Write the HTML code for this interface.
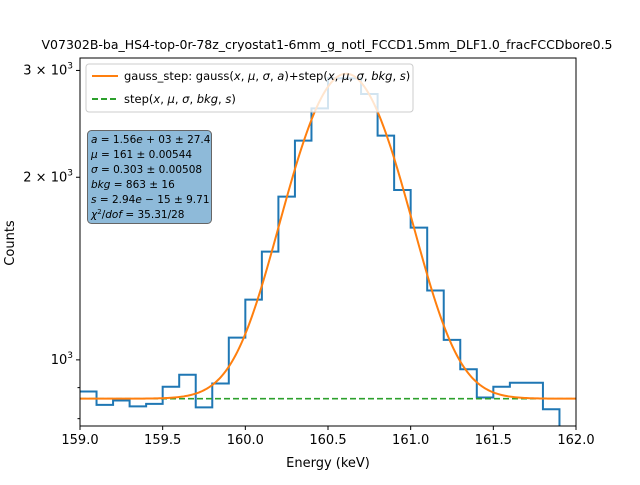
<!DOCTYPE html>
<html><head><meta charset="utf-8"><style>
body{margin:0;background:#fff}
svg{font-family:"DejaVu Sans","Liberation Sans",sans-serif}
</style></head><body>
<svg id="chart" width="640" height="480" viewBox="0 0 640 480" xmlns="http://www.w3.org/2000/svg">
<rect x="0" y="0" width="640" height="480" fill="#fff"/>
<text x="327" y="49" font-size="12.6" text-anchor="middle" textLength="571" lengthAdjust="spacingAndGlyphs">V07302B-ba_HS4-top-0r-78z_cryostat1-6mm_g_notl_FCCD1.5mm_DLF1.0_fracFCCDbore0.5</text>
<g id="plot"></g>
<g id="axes"></g>
<text x="328" y="467" font-size="13" text-anchor="middle">Energy (keV)</text>
<text x="14" y="243" font-size="13" text-anchor="middle" transform="rotate(-90 14 243)">Counts</text>
<g>
<rect x="86" y="64" width="327" height="48" rx="3" fill="#fff" fill-opacity="0.8" stroke="#ccc"/>
<line x1="92" y1="76" x2="118" y2="76" stroke="#ff7f0e" stroke-width="2"/>
<text x="124" y="80" font-size="11.5">gauss_step: gauss(<tspan font-style="italic">x</tspan>, <tspan font-style="italic">μ</tspan>, <tspan font-style="italic">σ</tspan>, <tspan font-style="italic">a</tspan>)+step(<tspan font-style="italic">x</tspan>, <tspan font-style="italic">μ</tspan>, <tspan font-style="italic">σ</tspan>, <tspan font-style="italic">bkg</tspan>, <tspan font-style="italic">s</tspan>)</text>
<line x1="92" y1="99" x2="118" y2="99" stroke="#2ca02c" stroke-width="2" stroke-dasharray="6,3"/>
<text x="124" y="103" font-size="11.5">step(<tspan font-style="italic">x</tspan>, <tspan font-style="italic">μ</tspan>, <tspan font-style="italic">σ</tspan>, <tspan font-style="italic">bkg</tspan>, <tspan font-style="italic">s</tspan>)</text>
</g>
<g font-size="10.5">
<rect x="87.5" y="130.5" width="124" height="93" rx="4" fill="#8ebad9" stroke="#666"/>
<text x="91" y="143"><tspan font-style="italic">a</tspan> = 1.56<tspan font-style="italic">e</tspan> + 03 ± 27.4</text>
<text x="91" y="158"><tspan font-style="italic">μ</tspan> = 161 ± 0.00544</text>
<text x="91" y="173"><tspan font-style="italic">σ</tspan> = 0.303 ± 0.00508</text>
<text x="91" y="188"><tspan font-style="italic">bkg</tspan> = 863 ± 16</text>
<text x="91" y="203"><tspan font-style="italic">s</tspan> = 2.94<tspan font-style="italic">e</tspan> − 15 ± 9.71</text>
<text x="91" y="218"><tspan font-style="italic">χ</tspan><tspan font-size="7" dy="-4">2</tspan><tspan dy="4">/</tspan><tspan font-style="italic">dof</tspan> = 35.31/28</text>
</g>
</svg>
<script>
const binEdgesStart = 159.0;
const binWidth = 0.1;
const counts = [887,843,857,838,846,903,945,835,914,1088,1257,1508,1858,2298,2598,2911,2911,2743,2342,1906,1652,1301,1079,965,867,903,917,917,829,760];
const fitParams = {amp:2100, mu:160.61, sigma:0.293, bkg:863};
const xTicks = [159.0,159.5,160.0,160.5,161.0,161.5,162.0];
const xTickLabels = ["159.0","159.5","160.0","160.5","161.0","161.5","162.0"];
const yMajor = [1000,2000,3000];
const yMinor = [800,900];

const L=80,R=576,T=58,B=426, xmin=159,xmax=162, ymin=778, ymax=3145;
const NS="http://www.w3.org/2000/svg";
const X=v=>L+(v-xmin)/(xmax-xmin)*(R-L);
const Y=v=>B-(Math.log10(v)-Math.log10(ymin))/(Math.log10(ymax)-Math.log10(ymin))*(B-T);
function mk(tag,attrs,parent){const e=document.createElementNS(NS,tag);for(const k in attrs)e.setAttribute(k,attrs[k]);parent.appendChild(e);return e;}
const plot=document.getElementById('plot'), axes=document.getElementById('axes');
const defs=mk('defs',{},plot);
const cp=mk('clipPath',{id:'clip'},defs);
mk('rect',{x:L,y:T,width:R-L,height:B-T},cp);
const g=mk('g',{'clip-path':'url(#clip)'},plot);

let d='';
counts.forEach((c,i)=>{const x0=X(binEdgesStart+i*binWidth),x1=X(binEdgesStart+(i+1)*binWidth),y=Y(c);
 d+=(i===0?'M'+x0+','+y:'L'+x0+','+y)+'L'+x1+','+y;});
const hist=mk('path',{d:d,fill:'none',stroke:'#1f77b4','stroke-width':2},g);



const st=mk('line',{x1:L,x2:R,y1:Y(fitParams.bkg),y2:Y(fitParams.bkg),stroke:'#2ca02c','stroke-width':1.6,'stroke-dasharray':'6,3'},g);



let fd='';
for(let i=0;i<=300;i++){const x=xmin+i*(xmax-xmin)/300;
 const v=fitParams.bkg+fitParams.amp*Math.exp(-Math.pow(x-fitParams.mu,2)/(2*fitParams.sigma*fitParams.sigma));
 fd+=(i?'L':'M')+X(x).toFixed(2)+','+Y(v).toFixed(2);}
const fc=mk('path',{d:fd,fill:'none',stroke:'#ff7f0e','stroke-width':2},g);



const fr=mk('rect',{x:L,y:T,width:R-L,height:B-T,fill:'none',stroke:'#000','stroke-width':1},axes);



xTicks.forEach((t,i)=>{
 const tk=mk('line',{x1:X(t),x2:X(t),y1:B,y2:B+4,stroke:'#000'},axes);
 
 
 const tl=mk('text',{x:X(t),y:B+18,'font-size':13,'text-anchor':'middle'},axes);
 tl.textContent=xTickLabels[i];
 
 
});
yMajor.forEach(t=>{
 const y=Y(t);
 const tk=mk('line',{x1:L-4,x2:L,y1:y,y2:y,stroke:'#000'},axes);
 
 
 const tl=mk('text',{x:L-7,y:y+4,'font-size':13,'text-anchor':'end'},axes);
 const m=t/1000;
 tl.innerHTML=(m===1?'':m+' × ')+'10<tspan font-size="9" dy="-6">3</tspan>';
 
 
});
yMinor.forEach(t=>{
 const y=Y(t);
 const tk=mk('line',{x1:L-2.5,x2:L,y1:y,y2:y,stroke:'#000'},axes);
 
 
});
</script>
</body></html>
